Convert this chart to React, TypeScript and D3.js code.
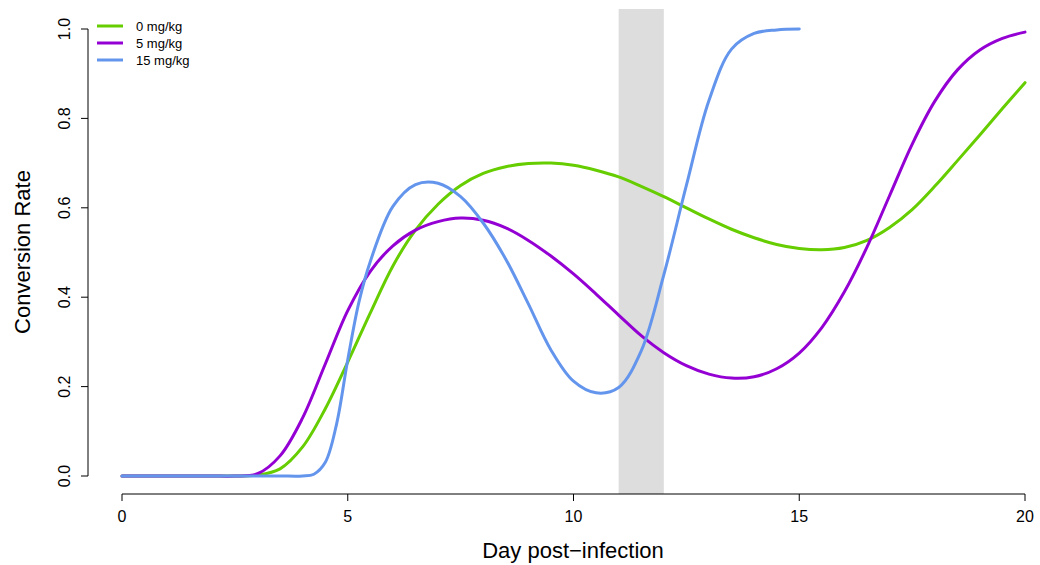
import React from "react";
import * as d3 from "d3";

const days = [0, 0.5, 1, 1.5, 2, 2.5, 3, 3.5, 4, 4.5, 5, 5.5, 6, 6.5, 7, 7.5, 8, 8.5, 9, 9.5, 10, 10.5, 11, 11.5, 12, 12.5, 13, 13.5, 14, 14.5, 15, 15.5, 16, 16.5, 17, 17.5, 18, 18.5, 19, 19.5, 20];

const dose0 = [0, 0, 0, 0, 0, 0, 0.002, 0.016, 0.065, 0.15, 0.255, 0.365, 0.47, 0.55, 0.608, 0.65, 0.677, 0.692, 0.699, 0.7, 0.695, 0.684, 0.669, 0.648, 0.625, 0.6, 0.575, 0.552, 0.533, 0.518, 0.509, 0.506, 0.511, 0.527, 0.556, 0.596, 0.648, 0.705, 0.763, 0.822, 0.88];

const dose5 = [0, 0, 0, 0, 0, 0, 0.005, 0.045, 0.13, 0.25, 0.37, 0.458, 0.515, 0.55, 0.569, 0.577, 0.572, 0.555, 0.527, 0.492, 0.452, 0.407, 0.36, 0.314, 0.276, 0.247, 0.228, 0.219, 0.222, 0.24, 0.275, 0.332, 0.412, 0.512, 0.627, 0.742, 0.838, 0.908, 0.953, 0.979, 0.993];

const days15 = [0, 0.5, 1, 1.5, 2, 2.5, 3, 3.5, 4, 4.25, 4.5, 4.75, 5, 5.25, 5.5, 6, 6.5, 7, 7.5, 8, 8.5, 9, 9.5, 10, 10.5, 11, 11.5, 12, 12.5, 13, 13.5, 14, 14.5, 15];

const dose15 = [0, 0, 0, 0, 0, 0, 0, 0, 0, 0.004, 0.03, 0.115, 0.26, 0.39, 0.48, 0.603, 0.652, 0.655, 0.625, 0.566, 0.485, 0.385, 0.282, 0.212, 0.186, 0.198, 0.28, 0.45, 0.65, 0.84, 0.955, 0.99, 0.998, 1.0];

const seriesNames = ["0 mg/kg", "5 mg/kg", "15 mg/kg"];
const seriesColors = ["#66CD00", "#9400D3", "#6495ED"];
const xTicks = [0, 5, 10, 15, 20];
const yTicks = [0, 0.2, 0.4, 0.6, 0.8, 1.0];
const bandStart = 11;
const bandEnd = 12;

export default function App() {
  const W = 1040;
  const H = 565;
  const x = d3.scaleLinear().domain([0, 20]).range([122, 1025]);
  const y = d3.scaleLinear().domain([0, 1]).range([476, 29]);
  const all: [number[], number[]][] = [
    [days, dose0],
    [days, dose5],
    [days15, dose15],
  ];
  const line = d3
    .line<[number, number]>()
    .x((d) => x(d[0]))
    .y((d) => y(d[1]))
    .curve(d3.curveCatmullRom.alpha(0.5));
  const font = "'Liberation Sans', Arial, sans-serif";
  return (
    <svg width={W} height={H} style={{ position: "absolute", left: 0, top: 0, background: "#fff" }} fontFamily={font}>
      <rect x={x(bandStart)} y={9} width={x(bandEnd) - x(bandStart)} height={494 - 9} fill="#DDDDDD" />
      {all.map(([xs, vals], i) => (
        <path
          key={i}
          d={line(vals.map((v, j) => [xs[j], v] as [number, number])) || ""}
          fill="none"
          stroke={seriesColors[i]}
          strokeWidth={3}
          strokeLinecap="round"
        />
      ))}
      {/* x axis */}
      <line x1={x(0)} x2={x(20)} y1={494} y2={494} stroke="#000" strokeWidth={1} />
      {xTicks.map((t) => (
        <g key={t}>
          <line x1={x(t)} x2={x(t)} y1={494} y2={501} stroke="#000" />
          <text x={x(t)} y={522} fontSize={16} textAnchor="middle">{t}</text>
        </g>
      ))}
      <text x={573} y={558} fontSize={22} textAnchor="middle">Day post−infection</text>
      {/* y axis */}
      <line x1={88} x2={88} y1={y(0)} y2={y(1)} stroke="#000" />
      {yTicks.map((t) => (
        <g key={t}>
          <line x1={81} x2={88} y1={y(t)} y2={y(t)} stroke="#000" />
          <text transform={`translate(70,${y(t)}) rotate(-90)`} fontSize={16} textAnchor="middle">{t.toFixed(1)}</text>
        </g>
      ))}
      <text transform={`translate(30,252) rotate(-90)`} fontSize={22} textAnchor="middle">Conversion Rate</text>
      {/* legend */}
      {seriesNames.map((n, i) => (
        <g key={n}>
          <line x1={97} x2={123} y1={26 + i * 17} y2={26 + i * 17} stroke={seriesColors[i]} strokeWidth={3} />
          <text x={136} y={30.5 + i * 17} fontSize={13}>{n}</text>
        </g>
      ))}
    </svg>
  );
}
